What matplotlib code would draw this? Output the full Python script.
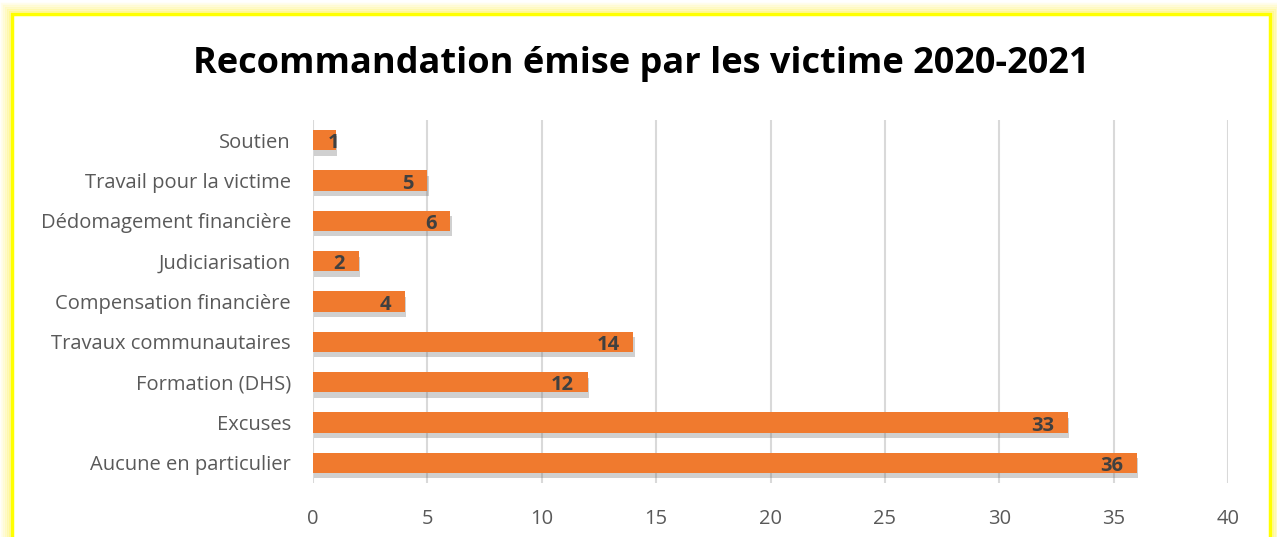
import matplotlib.pyplot as plt
from matplotlib.patches import Rectangle
import matplotlib.patheffects as pe

categories = [
    "Soutien",
    "Travail pour la victime",
    "Dédomagement financière",
    "Judiciarisation",
    "Compensation financière",
    "Travaux communautaires",
    "Formation (DHS)",
    "Excuses",
    "Aucune en particulier",
]
values = [1, 5, 6, 2, 4, 14, 12, 33, 36]
xticks = [0, 5, 10, 15, 20, 25, 30, 35, 40]

W, H = 1277, 537
fig = plt.figure(figsize=(W / 100, H / 100), dpi=100)
fig.patch.set_facecolor("white")

# yellow glow frame
for i, a in enumerate([0.10, 0.15, 0.22, 0.30, 0.40]):
    g = 10 - 2 * i
    fig.patches.append(Rectangle((12 - g, -20), 1258 + 2 * g, H - 14 + 20 + g,
                                 transform=None, fill=False,
                                 edgecolor="#FFF24D", alpha=a, lw=2.5))
fig.patches.append(Rectangle((12, -20), 1258, H - 14 + 20, transform=None,
                             fill=False, edgecolor="#FFFF00", lw=2.5))

ax = fig.add_axes([313 / W, 1 - 483 / H, (1228 - 313) / W, (483 - 120) / H])
y = list(range(len(categories)))
ax.barh(y, values, height=0.5, color="#F07A2E", zorder=3,
        path_effects=[pe.SimplePatchShadow(offset=(1, -4), shadow_rgbFace="#666666", alpha=0.3),
                      pe.Normal()])
ax.set_yticks(y)
ax.set_yticklabels(categories)
ax.set_ylim(8.5, -0.5)
ax.set_xlim(0, 40)
ax.set_xticks(xticks)
ax.grid(axis="x", color="#D9D9D9", lw=1.5, zorder=0)
for s in ax.spines.values():
    s.set_visible(False)
ax.tick_params(length=0, labelsize=14.5, colors="#595959")
ax.tick_params(axis="x", pad=19)
ax.tick_params(axis="y", pad=16)
for lab in ax.get_xticklabels() + ax.get_yticklabels():
    lab.set_fontfamily("Open Sans")

for yi, v in zip(y, values):
    ax.text(max(v - 0.6, 1.15), yi + 0.08, str(v), ha="right", va="center", fontsize=14.5,
            fontweight="bold", color="#404040", family="Open Sans", zorder=4)

fig.text(641 / W, 1 - 64 / H, "Recommandation émise par les victime 2020-2021",
         ha="center", va="center", fontsize=26, fontweight="bold",
         family="Open Sans", color="black")

fig.savefig("out.png", dpi=100)
